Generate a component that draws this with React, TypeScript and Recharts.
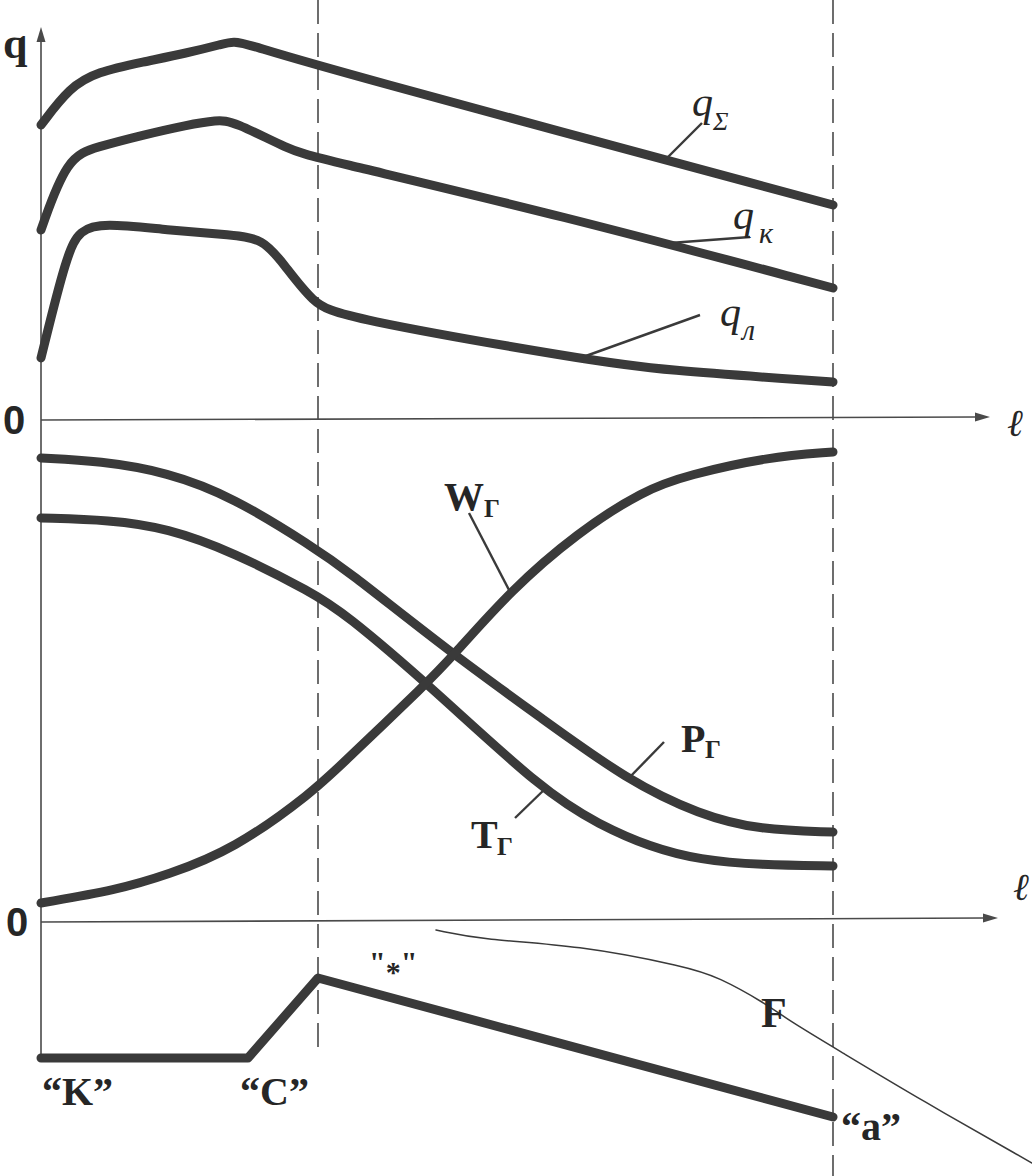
import React from 'react';
import { ComposedChart, Line, XAxis, YAxis, ReferenceLine, ReferenceDot } from 'recharts';

// l = distance along the channel from section "K" (0) to section "a" (792)
// top panel: heat flux q (height above its own zero line)
const qSumL = [0, 29, 56, 102, 146, 182, 192, 210, 272, 792];
const qSumV = [295, 333, 348, 358, 367, 376, 379, 375, 355, 215];

const qKL = [0, 26, 56, 102, 146, 176, 192, 249, 272, 519, 792];
const qKV = [190, 263, 273, 285, 295, 300, 299, 270, 263, 205, 132];

const qLL = [0, 26, 39, 62, 126, 192, 222, 242, 272, 299, 546, 619, 792];
const qLV = [62, 167, 190, 197, 190, 185, 181, 157, 117, 103, 60, 50, 38];

// middle panel: gas pressure, temperature and velocity
const pL = [0, 59, 126, 192, 272, 303, 410, 503, 586, 659, 719, 792];
const pV = [462, 459, 448, 423, 373, 352, 267, 200, 140, 105, 90, 88];

const tL = [0, 69, 126, 192, 272, 303, 386, 503, 559, 609, 659, 719, 792];
const tV = [402, 400, 392, 368, 327, 307, 237, 128, 95, 73, 60, 55, 54];

const wL = [0, 76, 126, 192, 272, 303, 386, 410, 470, 536, 603, 647, 727, 792];
const wV = [17, 30, 45, 70, 128, 158, 237, 262, 330, 387, 430, 445, 463, 468];

// bottom panel: nozzle profile (K - C - * - a) and the thin area curve F
const profL = [0, 207, 277, 792];
const profV = [-138, -138, -58, -197];

const fL = [395, 443, 536, 647, 677, 724, 747, 797, 880, 991];
const fV = [-10, -20, -25, -47, -57, -83, -100, -130, -180, -243];

const rows = (xs: number[], ys: number[]) => xs.map((l, i) => ({ l, v: ys[i] }));

const INK = '#3a3a3a';
const AXIS = '#4a4a4a';
const SERIF = '"Liberation Serif", "DejaVu Serif", serif';
const SANS = '"Liberation Sans", Arial, sans-serif';

const ArrowLine = (props: any) => {
  const { x1, y1, x2, y2 } = props;
  const ang = Math.atan2(y2 - y1, x2 - x1);
  const len = 15;
  const half = 4.5;
  const bx = x2 - len * Math.cos(ang);
  const by = y2 - len * Math.sin(ang);
  const px = -Math.sin(ang) * half;
  const py = Math.cos(ang) * half;
  return (
    <g>
      <line x1={x1} y1={y1} x2={bx} y2={by} stroke={AXIS} strokeWidth={1.6} />
      <polygon points={`${x2},${y2} ${bx + px},${by + py} ${bx - px},${by - py}`} fill={AXIS} />
    </g>
  );
};

const txt = (s: string, size: number, opts: any = {}) => (p: any) => (
  <text
    x={p.cx}
    y={p.cy}
    fontSize={size}
    fontFamily={opts.font || SERIF}
    fontWeight={opts.weight || 'bold'}
    fontStyle={opts.italic ? 'italic' : 'normal'}
    fill="#262626"
  >
    {s}
  </text>
);

// "*" with the asterisk sitting low between the quotes
const starShape = (p: any) => (
  <text x={p.cx} y={p.cy} fontSize={30} fontFamily={SERIF} fontWeight="bold" fill="#262626">
    <tspan>"</tspan>
    <tspan dy={10}>*</tspan>
    <tspan dy={-10}>"</tspan>
  </text>
);

const Label = ({ x, y, axis, shape }: any) => (
  <ReferenceDot x={x} y={y} yAxisId={axis} r={1} shape={shape} ifOverflow="visible" />
);

const Leader = ({ a, b, axis }: any) => (
  <ReferenceLine
    yAxisId={axis}
    segment={[{ x: a[0], y: a[1] }, { x: b[0], y: b[1] }]}
    stroke={INK}
    strokeWidth={2.4}
    ifOverflow="visible"
  />
);

const curve = (data: any[], axis: string, kind: any = 'basis', width = 9) => (
  <Line
    data={data}
    dataKey="v"
    yAxisId={axis}
    type={kind}
    stroke={INK}
    strokeWidth={width}
    strokeLinecap="round"
    strokeLinejoin="round"
    dot={false}
    activeDot={false}
    isAnimationActive={false}
  />
);

export default function App() {
  return (
    <div style={{ position: 'absolute', left: 0, top: 0, width: 1032, height: 1176, background: '#fff' }}>
      <ComposedChart width={1032} height={1176} margin={{ top: 0, right: 0, bottom: 0, left: 0 }}>
        <XAxis dataKey="l" type="number" domain={[-41, 991]} allowDataOverflow hide />
        <YAxis yAxisId="q" type="number" domain={[-756, 420]} allowDataOverflow hide />
        <YAxis yAxisId="m" type="number" domain={[-256, 920]} allowDataOverflow hide />

        {/* section lines */}
        <ReferenceLine yAxisId="q" segment={[{ x: 277, y: 420 }, { x: 277, y: -635 }]} stroke={AXIS} strokeWidth={1.6} strokeDasharray="24 9" />
        <ReferenceLine yAxisId="q" segment={[{ x: 792, y: 420 }, { x: 792, y: -756 }]} stroke={AXIS} strokeWidth={1.6} strokeDasharray="24 9" />

        {/* axes */}
        <ReferenceLine yAxisId="q" segment={[{ x: 0, y: -638 }, { x: 0, y: 393 }]} shape={ArrowLine} />
        <ReferenceLine yAxisId="q" segment={[{ x: 0, y: 0 }, { x: 949, y: 3 }]} shape={ArrowLine} />
        <ReferenceLine yAxisId="m" segment={[{ x: 0, y: -2 }, { x: 957, y: 2 }]} shape={ArrowLine} />

        {curve(rows(qSumL, qSumV), 'q')}
        {curve(rows(qKL, qKV), 'q')}
        {curve(rows(qLL, qLV), 'q')}
        {curve(rows(pL, pV), 'm')}
        {curve(rows(tL, tV), 'm')}
        {curve(rows(wL, wV), 'm')}
        {curve(rows(profL, profV), 'm', 'linear', 9)}
        {curve(rows(fL, fV), 'm', 'basis', 1.5)}

        {/* leaders */}
        <Leader axis="q" a={[626, 262]} b={[661, 297]} />
        <Leader axis="q" a={[629, 177]} b={[709, 183]} />
        <Leader axis="q" a={[542, 63]} b={[659, 105]} />
        <Leader axis="m" a={[468, 330]} b={[428, 407]} />
        <Leader axis="m" a={[586, 140]} b={[623, 178]} />
        <Leader axis="m" a={[506, 133]} b={[474, 102]} />

        {/* axis labels */}
        <Label axis="q" x={-38} y={362} shape={txt('q', 44)} />
        <Label axis="q" x={-38} y={-14} shape={txt('0', 40, { font: SANS })} />
        <Label axis="m" x={-35} y={-16} shape={txt('0', 40, { font: SANS })} />
        <Label axis="q" x={966} y={-16} shape={txt('ℓ', 38, { italic: true, weight: 'normal' })} />
        <Label axis="m" x={972} y={20} shape={txt('ℓ', 38, { italic: true, weight: 'normal' })} />

        {/* curve names */}
        <Label axis="q" x={651} y={304} shape={txt('q', 42, { italic: true, weight: 'normal' })} />
        <Label axis="q" x={672} y={290} shape={txt('Σ', 26, { italic: true, weight: 'normal' })} />
        <Label axis="q" x={692} y={191} shape={txt('q', 42, { italic: true, weight: 'normal' })} />
        <Label axis="q" x={718} y={177} shape={txt('к', 30, { italic: true, weight: 'normal' })} />
        <Label axis="q" x={679} y={94} shape={txt('q', 42, { italic: true, weight: 'normal' })} />
        <Label axis="q" x={701} y={80} shape={txt('л', 30, { italic: true, weight: 'normal' })} />

        <Label axis="m" x={403} y={410} shape={txt('W', 40)} />
        <Label axis="m" x={443} y={403} shape={txt('Г', 25)} />
        <Label axis="m" x={640} y={168} shape={txt('P', 40)} />
        <Label axis="m" x={664} y={162} shape={txt('Г', 25)} />
        <Label axis="m" x={430} y={72} shape={txt('T', 40)} />
        <Label axis="m" x={456} y={65} shape={txt('Г', 25)} />

        <Label axis="m" x={1} y={-185} shape={txt('“K”', 40)} />
        <Label axis="m" x={199} y={-185} shape={txt('“C”', 40)} />
        <Label axis="m" x={328} y={-52} shape={starShape} />
        <Label axis="m" x={800} y={-220} shape={txt('“a”', 40)} />
        <Label axis="m" x={720} y={-107} shape={txt('F', 42)} />
      </ComposedChart>
    </div>
  );
}
